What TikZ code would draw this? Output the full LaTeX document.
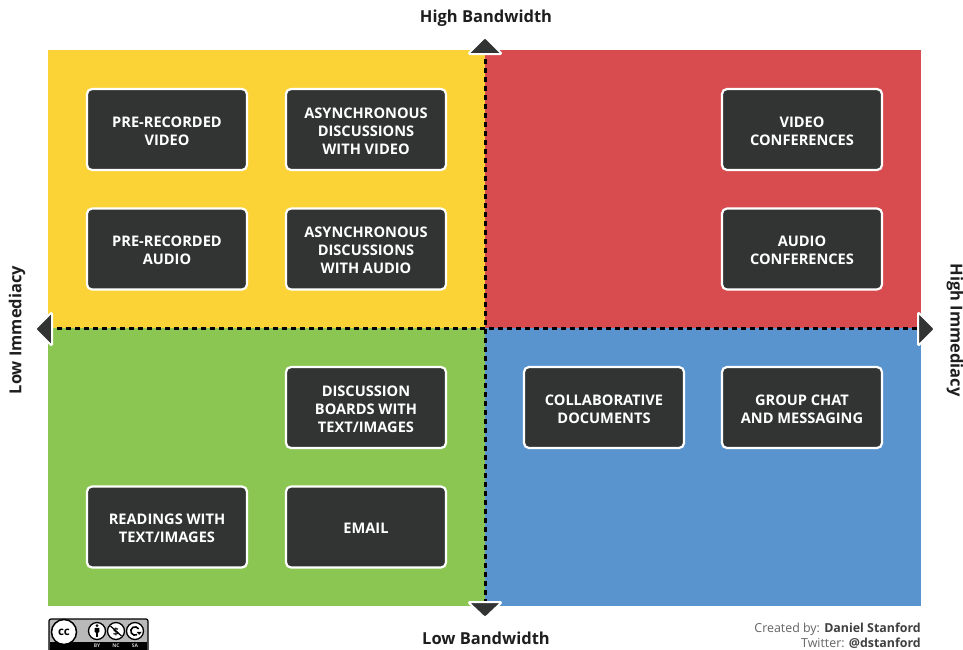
\documentclass[tikz,border=0pt]{standalone}
\usepackage{fontspec}
\setmainfont{Open Sans}
\usetikzlibrary{arrows.meta}
\definecolor{qyellow}{RGB}{252,211,54}
\definecolor{qred}{RGB}{216,75,78}
\definecolor{qgreen}{RGB}{139,198,83}
\definecolor{qblue}{RGB}{90,148,206}
\definecolor{boxdark}{RGB}{50,52,52}
\definecolor{labeldark}{RGB}{30,30,30}
\definecolor{credgray}{RGB}{100,100,100}
\tikzset{
  itembox/.style={draw=white, line width=2.2pt, fill=boxdark, rounded corners=5pt,
    minimum width=160pt, minimum height=81pt, inner sep=0pt},
  itemtext/.style={text=white, font=\fontsize{14.6}{17.8}\selectfont\bfseries, align=center, inner sep=0pt},
  axislabel/.style={text=labeldark, font=\fontsize{16.5}{20}\selectfont\bfseries, inner sep=0pt},
  divider/.style={line width=3pt, black, dash pattern=on 5pt off 4pt},
  pointer/.style={draw=white, line width=2pt, fill=boxdark, rounded corners=1.5pt, line join=round},
  ccring/.style={black, line width=1.3pt, fill=white},
}
\newcommand{\itemat}[4]{%
  \node[itembox] (#1) at (#2) {};
  \node[itemtext, yshift=-1.5pt] (#1-t) at (#1.center) {#3};}
\begin{document}
\begin{tikzpicture}[x=1pt,y=-1pt]
\useasboundingbox (0,0) rectangle (963,649);
\fill[white] (0,0) rectangle (963,649);
% quadrants
\fill[qyellow] (48,50) rectangle (485,328);
\fill[qred] (485,50) rectangle (921,328);
\fill[qgreen] (48,328) rectangle (485,606);
\fill[qblue] (485,328) rectangle (921,606);
% dividers
\coordinate (vtop) at (485,50);
\coordinate (vbot) at (485,606);
\coordinate (hleft) at (48,328);
\coordinate (hright) at (921,328);
\draw[divider] (vtop) -- (vbot);
\draw[divider] (hleft) -- (hright);
% pointers
\draw[pointer] (485,37) -- (502,54) -- (468,54) -- cycle;
\draw[pointer] (485,618) -- (502,602) -- (468,602) -- cycle;
\draw[pointer] (35,329) -- (52,312) -- (52,346) -- cycle;
\draw[pointer] (935,329) -- (918,312) -- (918,346) -- cycle;
% axis labels
\node[axislabel] (hb) at (486,18) {High Bandwidth};
\node[axislabel] (lb) at (486,638) {Low Bandwidth};
\node[axislabel, rotate=90] (li) at (17,330) {Low Immediacy};
\node[axislabel, rotate=-90] (hi) at (955,330) {High Immediacy};
% boxes
\itemat{prv}{167,129.5}{PRE-RECORDED\\VIDEO}{}
\itemat{adv}{366,129.5}{ASYNCHRONOUS\\DISCUSSIONS\\WITH VIDEO}{}
\itemat{pra}{167,249}{PRE-RECORDED\\AUDIO}{}
\itemat{ada}{366,249}{ASYNCHRONOUS\\DISCUSSIONS\\WITH AUDIO}{}
\itemat{vc}{802,129.5}{VIDEO\\CONFERENCES}{}
\itemat{ac}{802,249}{AUDIO\\CONFERENCES}{}
\itemat{dbt}{366,407.5}{DISCUSSION\\BOARDS WITH\\TEXT/IMAGES}{}
\itemat{rwt}{167,527}{READINGS WITH\\TEXT/IMAGES}{}
\itemat{em}{366,527}{EMAIL}{}
\itemat{cd}{604,407.5}{COLLABORATIVE\\DOCUMENTS}{}
\itemat{gcm}{802,407.5}{GROUP CHAT\\AND MESSAGING}{}
% credits
\node[anchor=base east, inner sep=0pt, font=\fontsize{12.4}{14}\selectfont] (cr1) at (921,632)
  {\textcolor{credgray}{Created by:} \textcolor{labeldark!85}{\bfseries Daniel Stanford}};
\node[anchor=base east, inner sep=0pt, font=\fontsize{12.4}{14}\selectfont] (cr2) at (921,647)
  {\textcolor{credgray}{Twitter:} \textcolor{labeldark!85}{\bfseries @dstanford}};
% CC badge
\begin{scope}
\clip (0,0) rectangle (963,649);
\draw[black, line width=1.2pt, fill=gray!55, rounded corners=2pt] (49,619) rectangle (148,660);
\fill[black] (50,642) rectangle (147,660);
\draw[ccring, line width=1.5pt] (64,632) circle (12.5);
\node[inner sep=0pt, font=\fontsize{11.5}{11}\selectfont\bfseries] (ccl) at (64,632.5) {cc};
% BY: person
\draw[ccring] (97,631) circle (8.5);
\fill[black] (97,625.6) circle (1.5);
\fill[black, rounded corners=0.8pt] (94.6,627.8) rectangle (99.4,632.6);
\fill[black] (95.6,632) rectangle (98.4,636.5);
% NC: crossed dollar
\draw[ccring] (116,631) circle (8.5);
\node[inner sep=0pt, font=\fontsize{10}{10}\selectfont\bfseries] (ncl) at (116,631.5) {\$};
\draw[black, line width=1.2pt] (110.5,626) -- (121.5,636);
% SA: circular arrow
\draw[ccring] (135,631) circle (8.5);
\draw[black, line width=1.6pt] (135,631) ++(60:4.2) arc[start angle=60, end angle=330, radius=4.2];
\fill[black] (136.6,631.8) -- (141.8,631.8) -- (139.2,634.8) -- cycle;
\node[inner sep=0pt, text=gray!40, font=\fontsize{5}{5}\selectfont\bfseries] (bytx) at (97,645.5) {BY};
\node[inner sep=0pt, text=gray!40, font=\fontsize{5}{5}\selectfont\bfseries] (nctx) at (116,645.5) {NC};
\node[inner sep=0pt, text=gray!40, font=\fontsize{5}{5}\selectfont\bfseries] (satx) at (135,645.5) {SA};
\end{scope}
\end{tikzpicture}
\end{document}
